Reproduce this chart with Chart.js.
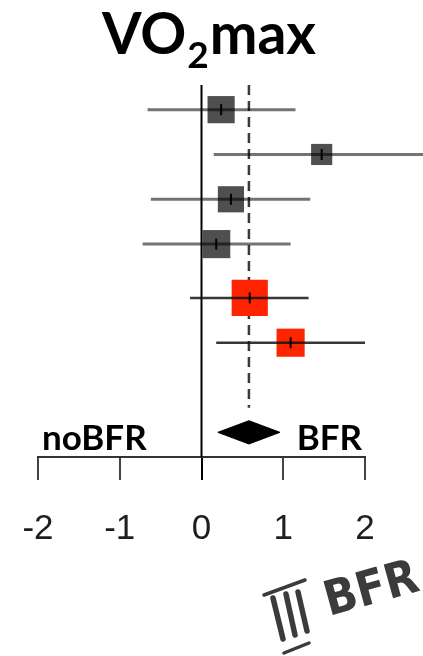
<!DOCTYPE html>
<html>
<head>
<meta charset="utf-8">
<script src="https://cdn.jsdelivr.net/npm/chart.js@4.4.1/dist/chart.umd.min.js"></script>
<style>
  html, body { margin: 0; padding: 0; background: #ffffff; }
  #wrap { position: relative; width: 423px; height: 656px; }
</style>
</head>
<body>
<div id="wrap"><canvas id="forest" width="423" height="656"></canvas></div>
<script>
// Study-level effect sizes (standardised mean difference, BFR vs noBFR)
const studyIds   = ['Study 1', 'Study 2', 'Study 3', 'Study 4', 'Study 5', 'Study 6'];
const estimates  = [0.24, 1.47, 0.36, 0.18, 0.59, 1.09];
const lowerCI    = [-0.66, 0.15, -0.62, -0.72, -0.14, 0.18];
const upperCI    = [1.15, 2.78, 1.33, 1.09, 1.31, 2.00];
const weights    = [15.5, 9.4, 14.4, 16.6, 27.5, 16.6];   // % weight in the pooled model
const subgroup   = [0, 0, 0, 0, 1, 1];

// Pooled random-effects estimate
const pooledEstimate = 0.58;
const pooledLower    = 0.20;
const pooledUpper    = 0.96;

const xTicks = [-2, -1, 0, 1, 2];
const sideLabels = ['noBFR', 'BFR'];

// ---- layout helpers (row positions on the reversed y scale) ----
const rowY = studyIds.map((_, i) => i + (subgroup[i] ? 0.2 : 0));
const pooledY = rowY[rowY.length - 1] + 2;
const Y_MIN = -0.55, Y_MAX = pooledY + 0.55;
const GRAY = '#4f4f4f', RED = '#ff2400';

const datasets = [];

// whiskers
studyIds.forEach((id, i) => {
  datasets.push({
    type: 'line', label: id + ' CI',
    data: [{x: lowerCI[i], y: rowY[i]}, {x: upperCI[i], y: rowY[i]}],
    borderColor: subgroup[i] ? 'rgba(20,20,20,0.85)' : 'rgba(0,0,0,0.55)',
    borderWidth: subgroup[i] ? 2.5 : 3,
    pointRadius: 0, clip: false, order: 2
  });
});

// weighted boxes
datasets.push({
  type: 'scatter', label: 'estimate',
  data: estimates.map((e, i) => ({x: e, y: rowY[i]})),
  pointStyle: 'rect',
  pointRadius: weights.map(w => 6.9 * Math.sqrt(w) / Math.SQRT2),
  backgroundColor: subgroup.map(g => g ? RED : GRAY),
  borderWidth: 0, clip: false, order: 3
});

// point-estimate tick inside each box
datasets.push({
  type: 'scatter', label: 'tick',
  data: estimates.map((e, i) => ({x: e, y: rowY[i]})),
  pointStyle: 'line', rotation: 90, pointRadius: 5.5,
  borderColor: '#000', borderWidth: 2, clip: false, order: 1
});

// line of no effect
datasets.push({
  type: 'line', label: 'zero',
  data: [{x: 0, y: Y_MIN}, {x: 0, y: Y_MAX}],
  borderColor: '#000', borderWidth: 2, pointRadius: 0, clip: false, order: 4
});

// dashed line at the pooled estimate
datasets.push({
  type: 'line', label: 'pooled line',
  data: [{x: pooledEstimate, y: Y_MIN}, {x: pooledEstimate, y: pooledY - 0.55}],
  borderColor: '#3a3a3a', borderWidth: 2.5, borderDash: [10, 6],
  pointRadius: 0, clip: false, order: 5
});

// pooled diamond
const dh = 0.26;
datasets.push({
  type: 'line', label: 'pooled',
  data: [
    {x: pooledLower, y: pooledY}, {x: pooledEstimate, y: pooledY - dh},
    {x: pooledUpper, y: pooledY}, {x: pooledEstimate, y: pooledY + dh},
    {x: pooledLower, y: pooledY}
  ],
  borderColor: '#000', borderWidth: 1, backgroundColor: '#000',
  fill: 'shape', tension: 0, pointRadius: 0, clip: false, order: 1
});

function stroke(ctx, x1, y1, x2, y2, w) {
  ctx.lineWidth = w;
  ctx.beginPath(); ctx.moveTo(x1, y1); ctx.lineTo(x2, y2); ctx.stroke();
}

// title, side labels and logo mark
const decorations = {
  id: 'decorations',
  afterDraw(chart) {
    const ctx = chart.ctx, area = chart.chartArea;
    ctx.save();
    // title VO2max
    ctx.fillStyle = '#000';
    ctx.textBaseline = 'alphabetic';
    const big = 'bold 57px Lato', small = 'bold 37px Lato';
    ctx.font = big; const w1 = ctx.measureText('VO').width, w3 = ctx.measureText('max').width;
    ctx.font = small; const w2 = ctx.measureText('2').width;
    let x = 209 - (w1 + w2 + w3 + 2) / 2;
    ctx.font = big; ctx.fillText('VO', x, 54); x += w1 + 1;
    ctx.font = small; ctx.fillText('2', x, 68); x += w2 + 1;
    ctx.font = big; ctx.fillText('max', x, 54);

    // side labels
    ctx.font = 'bold 35px Lato';
    ctx.textAlign = 'left';
    ctx.fillText(sideLabels[0], area.left + 4, area.bottom - 7);
    ctx.textAlign = 'right';
    ctx.fillText(sideLabels[1], area.right - 3, area.bottom - 7);
    ctx.restore();

    // logo mark: framed claw strokes + lettering
    ctx.save();
    ctx.strokeStyle = '#3b3b3b';
    ctx.fillStyle = '#3b3b3b';
    ctx.lineCap = 'round';
    stroke(ctx, 264, 595, 305, 580, 3.5);
    stroke(ctx, 284, 653, 309, 643, 3.5);
    stroke(ctx, 273, 598, 283, 639, 5.5);
    stroke(ctx, 286, 594, 295, 635, 5.5);
    stroke(ctx, 298, 592, 307, 631, 5.5);
    ctx.translate(329, 616);
    ctx.rotate(-0.27);
    ctx.scale(0.9, 1);
    ctx.font = 'bold 48px "DejaVu Sans"';
    ctx.textAlign = 'left';
    ctx.fillText('BFR', 0, 0);
    ctx.restore();
  }
};

new Chart(document.getElementById('forest'), {
  data: { datasets },
  options: {
    responsive: false,
    animation: false,
    layout: { padding: { left: 38, right: 58, top: 85, bottom: 0 } },
    plugins: { legend: { display: false }, tooltip: { enabled: false } },
    scales: {
      x: {
        type: 'linear', min: xTicks[0], max: xTicks[xTicks.length - 1],
        afterBuildTicks: s => { s.ticks = xTicks.map(v => ({value: v})); },
        afterFit: s => { s.height = 199; s.paddingLeft = 0; s.paddingRight = 0; },
        border: { display: true, color: '#333', width: 2 },
        grid: { drawOnChartArea: false, drawTicks: true, tickLength: 23,
                color: c => c.tick && c.tick.value === 0 ? '#000' : '#444', lineWidth: 2 },
        ticks: { padding: 28, color: '#1e1e1e', maxRotation: 0,
                 font: { family: '"Liberation Sans", Arial, sans-serif', size: 35 } }
      },
      y: { type: 'linear', reverse: true, min: Y_MIN, max: Y_MAX, display: false }
    }
  },
  plugins: [decorations]
});
</script>
</body>
</html>
